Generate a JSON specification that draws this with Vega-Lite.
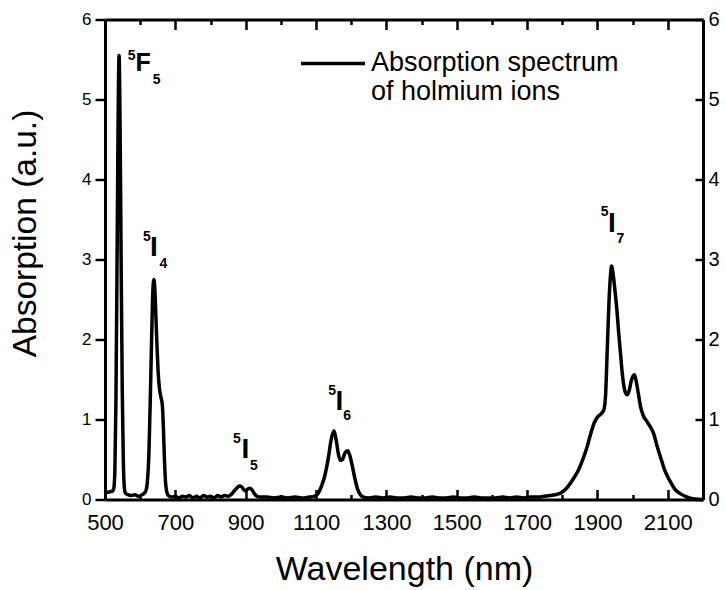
{
  "$schema": "https://vega.github.io/schema/vega-lite/v6.json",
  "width": 598,
  "height": 480,
  "autosize": {"type": "none"},
  "padding": {"left": 105, "top": 19.5, "right": 23, "bottom": 90.5},
  "background": "white",
  "config": {
    "view": {"stroke": null},
    "font": "Liberation Sans",
    "axis": {"grid": false, "ticks": true, "domainColor": "black", "tickColor": "black", "labelColor": "black", "titleColor": "black", "domainWidth": 3, "tickWidth": 2.5, "tickOpacity": 1, "labelFont": "Liberation Sans", "titleFont": "Liberation Sans", "titleFontWeight": "normal", "labelFlush": false, "labelOverlap": false, "labelBound": false}
  },
  "datasets": {
    "spectrum": [
      {"wavelength": 500, "absorption": 0.07}, {"wavelength": 505, "absorption": 0.09}, {"wavelength": 510, "absorption": 0.09}, {"wavelength": 515, "absorption": 0.10}, {"wavelength": 520, "absorption": 0.10}, {"wavelength": 525, "absorption": 0.14}, {"wavelength": 528, "absorption": 0.35}, {"wavelength": 531, "absorption": 1.2}, {"wavelength": 534, "absorption": 2.8}, {"wavelength": 537, "absorption": 4.6}, {"wavelength": 540, "absorption": 5.55}, {"wavelength": 543, "absorption": 4.6}, {"wavelength": 546, "absorption": 2.9}, {"wavelength": 549, "absorption": 1.4}, {"wavelength": 552, "absorption": 0.5}, {"wavelength": 555, "absorption": 0.15}, {"wavelength": 558, "absorption": 0.08}, {"wavelength": 565, "absorption": 0.06}, {"wavelength": 575, "absorption": 0.05}, {"wavelength": 585, "absorption": 0.06}, {"wavelength": 595, "absorption": 0.04}, {"wavelength": 605, "absorption": 0.06}, {"wavelength": 612, "absorption": 0.08}, {"wavelength": 617, "absorption": 0.12}, {"wavelength": 621, "absorption": 0.25}, {"wavelength": 625, "absorption": 0.6}, {"wavelength": 629, "absorption": 1.3}, {"wavelength": 633, "absorption": 2.1}, {"wavelength": 636, "absorption": 2.6}, {"wavelength": 639, "absorption": 2.75}, {"wavelength": 642, "absorption": 2.6}, {"wavelength": 645, "absorption": 2.25}, {"wavelength": 648, "absorption": 1.9}, {"wavelength": 651, "absorption": 1.6}, {"wavelength": 655, "absorption": 1.38}, {"wavelength": 659, "absorption": 1.28}, {"wavelength": 663, "absorption": 1.18}, {"wavelength": 666, "absorption": 0.9}, {"wavelength": 669, "absorption": 0.5}, {"wavelength": 672, "absorption": 0.22}, {"wavelength": 676, "absorption": 0.09}, {"wavelength": 680, "absorption": 0.05},
      {"wavelength": 690, "absorption": 0.03}, {"wavelength": 700, "absorption": 0.04}, {"wavelength": 710, "absorption": 0.02}, {"wavelength": 720, "absorption": 0.04}, {"wavelength": 730, "absorption": 0.03}, {"wavelength": 740, "absorption": 0.05}, {"wavelength": 750, "absorption": 0.02}, {"wavelength": 760, "absorption": 0.04}, {"wavelength": 770, "absorption": 0.02}, {"wavelength": 780, "absorption": 0.05}, {"wavelength": 790, "absorption": 0.03}, {"wavelength": 800, "absorption": 0.04}, {"wavelength": 810, "absorption": 0.02}, {"wavelength": 820, "absorption": 0.05}, {"wavelength": 830, "absorption": 0.03}, {"wavelength": 840, "absorption": 0.05}, {"wavelength": 850, "absorption": 0.04},
      {"wavelength": 858, "absorption": 0.06}, {"wavelength": 866, "absorption": 0.10}, {"wavelength": 874, "absorption": 0.14}, {"wavelength": 882, "absorption": 0.17}, {"wavelength": 888, "absorption": 0.16}, {"wavelength": 895, "absorption": 0.12}, {"wavelength": 900, "absorption": 0.11}, {"wavelength": 906, "absorption": 0.13}, {"wavelength": 912, "absorption": 0.14}, {"wavelength": 918, "absorption": 0.12}, {"wavelength": 925, "absorption": 0.07}, {"wavelength": 932, "absorption": 0.04}, {"wavelength": 940, "absorption": 0.03},
      {"wavelength": 960, "absorption": 0.03}, {"wavelength": 980, "absorption": 0.02}, {"wavelength": 1000, "absorption": 0.03}, {"wavelength": 1020, "absorption": 0.02}, {"wavelength": 1040, "absorption": 0.03}, {"wavelength": 1060, "absorption": 0.02}, {"wavelength": 1080, "absorption": 0.03}, {"wavelength": 1095, "absorption": 0.04},
      {"wavelength": 1105, "absorption": 0.07}, {"wavelength": 1115, "absorption": 0.16}, {"wavelength": 1125, "absorption": 0.30}, {"wavelength": 1135, "absorption": 0.52}, {"wavelength": 1143, "absorption": 0.75}, {"wavelength": 1151, "absorption": 0.86}, {"wavelength": 1157, "absorption": 0.75}, {"wavelength": 1163, "absorption": 0.58}, {"wavelength": 1169, "absorption": 0.49}, {"wavelength": 1175, "absorption": 0.50}, {"wavelength": 1182, "absorption": 0.58}, {"wavelength": 1190, "absorption": 0.61}, {"wavelength": 1196, "absorption": 0.55}, {"wavelength": 1203, "absorption": 0.42}, {"wavelength": 1210, "absorption": 0.27}, {"wavelength": 1218, "absorption": 0.13}, {"wavelength": 1226, "absorption": 0.06}, {"wavelength": 1235, "absorption": 0.03},
      {"wavelength": 1250, "absorption": 0.02}, {"wavelength": 1270, "absorption": 0.03}, {"wavelength": 1290, "absorption": 0.02}, {"wavelength": 1310, "absorption": 0.03}, {"wavelength": 1330, "absorption": 0.02}, {"wavelength": 1350, "absorption": 0.02}, {"wavelength": 1370, "absorption": 0.03}, {"wavelength": 1390, "absorption": 0.02}, {"wavelength": 1410, "absorption": 0.02}, {"wavelength": 1430, "absorption": 0.03}, {"wavelength": 1450, "absorption": 0.02}, {"wavelength": 1470, "absorption": 0.02}, {"wavelength": 1490, "absorption": 0.03}, {"wavelength": 1510, "absorption": 0.02}, {"wavelength": 1530, "absorption": 0.02}, {"wavelength": 1550, "absorption": 0.03}, {"wavelength": 1570, "absorption": 0.02}, {"wavelength": 1590, "absorption": 0.02}, {"wavelength": 1610, "absorption": 0.02}, {"wavelength": 1630, "absorption": 0.03}, {"wavelength": 1650, "absorption": 0.02}, {"wavelength": 1670, "absorption": 0.03}, {"wavelength": 1690, "absorption": 0.02}, {"wavelength": 1710, "absorption": 0.03}, {"wavelength": 1730, "absorption": 0.03}, {"wavelength": 1750, "absorption": 0.04}, {"wavelength": 1765, "absorption": 0.05}, {"wavelength": 1780, "absorption": 0.06},
      {"wavelength": 1795, "absorption": 0.08}, {"wavelength": 1810, "absorption": 0.13}, {"wavelength": 1830, "absorption": 0.25}, {"wavelength": 1845, "absorption": 0.36}, {"wavelength": 1860, "absorption": 0.52}, {"wavelength": 1870, "absorption": 0.65}, {"wavelength": 1880, "absorption": 0.81}, {"wavelength": 1890, "absorption": 0.95}, {"wavelength": 1900, "absorption": 1.03}, {"wavelength": 1910, "absorption": 1.07}, {"wavelength": 1918, "absorption": 1.12}, {"wavelength": 1923, "absorption": 1.3}, {"wavelength": 1928, "absorption": 1.9}, {"wavelength": 1933, "absorption": 2.5}, {"wavelength": 1937, "absorption": 2.8}, {"wavelength": 1940, "absorption": 2.92}, {"wavelength": 1945, "absorption": 2.8}, {"wavelength": 1950, "absorption": 2.6}, {"wavelength": 1955, "absorption": 2.38}, {"wavelength": 1960, "absorption": 2.1}, {"wavelength": 1965, "absorption": 1.85}, {"wavelength": 1970, "absorption": 1.6}, {"wavelength": 1975, "absorption": 1.42}, {"wavelength": 1980, "absorption": 1.33}, {"wavelength": 1985, "absorption": 1.31}, {"wavelength": 1990, "absorption": 1.36}, {"wavelength": 1997, "absorption": 1.5}, {"wavelength": 2005, "absorption": 1.56}, {"wavelength": 2010, "absorption": 1.48}, {"wavelength": 2016, "absorption": 1.33}, {"wavelength": 2022, "absorption": 1.17}, {"wavelength": 2030, "absorption": 1.05}, {"wavelength": 2040, "absorption": 0.98}, {"wavelength": 2050, "absorption": 0.91}, {"wavelength": 2060, "absorption": 0.82}, {"wavelength": 2070, "absorption": 0.66}, {"wavelength": 2080, "absorption": 0.52}, {"wavelength": 2090, "absorption": 0.38}, {"wavelength": 2100, "absorption": 0.28}, {"wavelength": 2110, "absorption": 0.2}, {"wavelength": 2120, "absorption": 0.13}, {"wavelength": 2133, "absorption": 0.08}, {"wavelength": 2150, "absorption": 0.04}, {"wavelength": 2171, "absorption": 0.01}, {"wavelength": 2200, "absorption": 0.0}
    ],
    "labels": [
      {"t": "5", "role": "sup", "x": 565, "y": 5.5},
      {"t": "F", "role": "mainF", "x": 587, "y": 5.354},
      {"t": "5", "role": "sub", "x": 636, "y": 5.19},
      {"t": "5", "role": "sup", "x": 608, "y": 3.23},
      {"t": "I", "role": "main", "x": 628, "y": 3.04},
      {"t": "4", "role": "sub", "x": 655, "y": 2.9},
      {"t": "5", "role": "sup", "x": 864, "y": 0.71},
      {"t": "I", "role": "main", "x": 888, "y": 0.52},
      {"t": "5", "role": "sub", "x": 912, "y": 0.375},
      {"t": "5", "role": "sup", "x": 1134.5, "y": 1.31},
      {"t": "I", "role": "main", "x": 1155.6, "y": 1.125},
      {"t": "6", "role": "sub", "x": 1177, "y": 0.99},
      {"t": "5", "role": "sup", "x": 1909, "y": 3.54},
      {"t": "I", "role": "main", "x": 1930, "y": 3.35},
      {"t": "7", "role": "sub", "x": 1954, "y": 3.21}
    ]
  },
  "layer": [
    {
      "data": {"name": "spectrum"},
      "mark": {"type": "line", "strokeWidth": 3.5, "interpolate": "monotone"},
      "encoding": {
        "x": {
          "field": "wavelength", "type": "quantitative",
          "scale": {"domain": [500, 2200], "nice": false, "zero": false},
          "axis": {
            "orient": "bottom", "format": "d",
            "values": [500, 600, 700, 800, 900, 1000, 1100, 1200, 1300, 1400, 1500, 1600, 1700, 1800, 1900, 2000, 2100, 2200],
            "labelExpr": "(datum.value - 500) % 200 === 0 ? datum.label : ''",
            "tickSize": {"condition": {"test": "datum.value % 200 === 100", "value": -10}, "value": -5},
            "labelPadding": 23, "labelFontSize": 22,
            "title": "Wavelength (nm)", "titleFontSize": 34, "titleY": 80, "titleBaseline": "alphabetic"
          }
        },
        "y": {
          "field": "absorption", "type": "quantitative",
          "scale": {"domain": [0, 6], "nice": false},
          "axis": {
            "orient": "left", "format": "d",
            "values": [0, 0.5, 1, 1.5, 2, 2.5, 3, 3.5, 4, 4.5, 5, 5.5, 6],
            "labelExpr": "datum.value % 1 === 0 ? datum.label : ''",
            "tickSize": {"condition": {"test": "datum.value % 1 === 0", "value": 10}, "value": 5},
            "labelPadding": 4, "labelFontSize": 17,
            "title": "Absorption (a.u.)", "titleFontSize": 33.5, "titleX": -70, "titleY": 213.5, "titleBaseline": "alphabetic", "titleAlign": "center", "titleAngle": 270
          }
        },
        "color": {
          "datum": "Absorption spectrum of holmium ions", "type": "nominal",
          "scale": {"range": ["black"]},
          "legend": {
            "orient": "none", "legendX": 194, "legendY": 10, "title": null, "padding": 0,
            "symbolType": "stroke", "symbolSize": 4096, "symbolStrokeWidth": 3.5,
            "labelFontSize": 27, "labelFont": "Liberation Sans", "labelColor": "black", "labelLimit": 500,
            "labelOffset": 4, "labelBaseline": "alphabetic",
            "labelExpr": "['Absorption spectrum', 'of holmium ions']",
            "encode": {"labels": {"update": {"dy": {"value": 7}}}}
          }
        }
      }
    },
    {
      "data": {"name": "labels"},
      "transform": [{"filter": "datum.role === 'sup'"}],
      "mark": {"type": "text", "align": "left", "baseline": "alphabetic", "fontWeight": "bold", "font": "Liberation Sans", "color": "black", "fontSize": 14},
      "encoding": {
        "x": {
          "field": "x", "type": "quantitative",
          "scale": {"domain": [500, 2200], "nice": false, "zero": false},
          "axis": {
            "orient": "top", "labels": false, "title": null,
            "values": [500, 600, 700, 800, 900, 1000, 1100, 1200, 1300, 1400, 1500, 1600, 1700, 1800, 1900, 2000, 2100, 2200],
            "tickSize": {"condition": {"test": "datum.value % 200 === 100", "value": -10}, "value": -5}
          }
        },
        "y": {
          "field": "y", "type": "quantitative",
          "scale": {"domain": [0, 6], "nice": false},
          "axis": {
            "orient": "right", "title": null, "format": "d",
            "values": [0, 0.5, 1, 1.5, 2, 2.5, 3, 3.5, 4, 4.5, 5, 5.5, 6],
            "labelExpr": "datum.value % 1 === 0 ? datum.label : ''",
            "tickSize": {"condition": {"test": "datum.value % 1 === 0", "value": -8}, "value": -5},
            "labelPadding": 13, "labelFontSize": 20
          }
        },
        "text": {"field": "t"}
      }
    },
    {
      "data": {"name": "labels"},
      "transform": [{"filter": "datum.role === 'sub'"}],
      "mark": {"type": "text", "align": "left", "baseline": "alphabetic", "fontWeight": "bold", "font": "Liberation Sans", "color": "black", "fontSize": 14},
      "encoding": {
        "x": {"field": "x", "type": "quantitative", "axis": null},
        "y": {"field": "y", "type": "quantitative", "axis": null},
        "text": {"field": "t"}
      }
    },
    {
      "data": {"name": "labels"},
      "transform": [{"filter": "datum.role === 'main'"}],
      "mark": {"type": "text", "align": "left", "baseline": "alphabetic", "fontWeight": "bold", "font": "Liberation Sans", "color": "black", "fontSize": 28},
      "encoding": {
        "x": {"field": "x", "type": "quantitative", "axis": null},
        "y": {"field": "y", "type": "quantitative", "axis": null},
        "text": {"field": "t"}
      }
    },
    {
      "data": {"name": "labels"},
      "transform": [{"filter": "datum.role === 'mainF'"}],
      "mark": {"type": "text", "align": "left", "baseline": "alphabetic", "fontWeight": "bold", "font": "Liberation Sans", "color": "black", "fontSize": 25},
      "encoding": {
        "x": {"field": "x", "type": "quantitative", "axis": null},
        "y": {"field": "y", "type": "quantitative", "axis": null},
        "text": {"field": "t"}
      }
    }
  ],
  "resolve": {"axis": {"x": "independent", "y": "independent"}}
}
